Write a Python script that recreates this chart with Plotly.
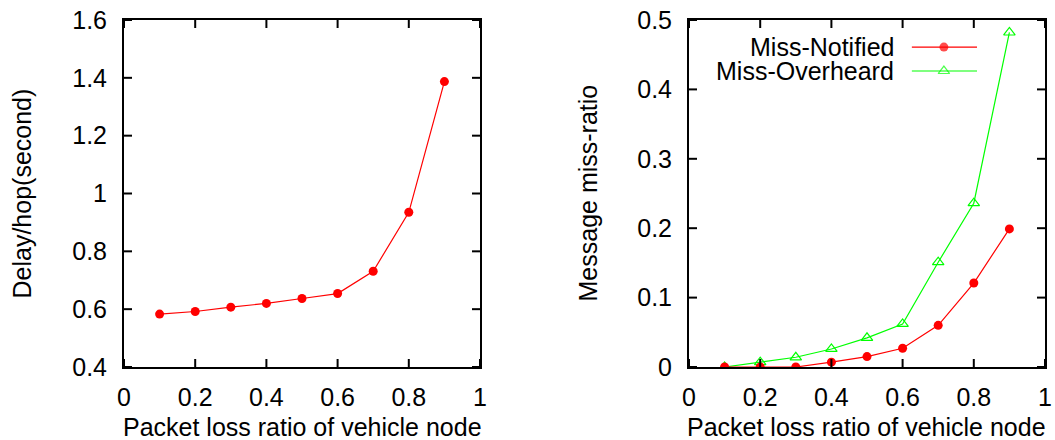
import plotly.graph_objects as go

# Packet loss ratio of the vehicle node (x for both panels)
loss_ratio = [0.1, 0.2, 0.3, 0.4, 0.5, 0.6, 0.7, 0.8, 0.9]

# Left panel: per-hop delay in seconds
delay_per_hop = [0.583, 0.592, 0.607, 0.620, 0.637, 0.654, 0.731, 0.935, 1.387]

# Right panel: message miss-ratio
miss_notified = [0.0, 0.0, 0.0, 0.007, 0.015, 0.027, 0.060, 0.121, 0.199]
miss_overheard = [0.0, 0.007, 0.014, 0.026, 0.042, 0.062, 0.151, 0.236, 0.482]

x_ticks = [0, 0.2, 0.4, 0.6, 0.8, 1]
x_tick_text = ["0", "0.2", "0.4", "0.6", "0.8", "1"]
left_y_ticks = [0.4, 0.6, 0.8, 1.0, 1.2, 1.4, 1.6]
left_y_text = ["0.4", "0.6", "0.8", "1", "1.2", "1.4", "1.6"]
right_y_ticks = [0, 0.1, 0.2, 0.3, 0.4, 0.5]
right_y_text = ["0", "0.1", "0.2", "0.3", "0.4", "0.5"]

legend_names = ["Miss-Notified", "Miss-Overheard"]

RED = "#ff0000"
GREEN = "#00ff00"
FONT = "Liberation Sans, Arial, sans-serif"
FS = 25
TICK_LEN = 8

W, H = 1055, 440
left_dom = [124 / W, 480 / W]
right_dom = [689 / W, 1045 / W]
y_dom = [1 - 367 / H, 1 - 20 / H]

fig = go.Figure()

fig.add_trace(go.Scatter(
    x=loss_ratio, y=delay_per_hop, mode="lines+markers",
    line=dict(color=RED, width=1.2),
    marker=dict(symbol="circle", size=9, color=RED),
    xaxis="x", yaxis="y", showlegend=False,
))

fig.add_trace(go.Scatter(
    x=loss_ratio, y=miss_overheard, mode="lines+markers",
    line=dict(color=GREEN, width=1.2),
    marker=dict(symbol="triangle-up-open", size=10, color=GREEN,
                line=dict(width=1.2, color=GREEN)),
    xaxis="x2", yaxis="y2", showlegend=False,
))
fig.add_trace(go.Scatter(
    x=loss_ratio, y=miss_notified, mode="lines+markers",
    line=dict(color=RED, width=1.2),
    marker=dict(symbol="circle", size=9, color=RED),
    xaxis="x2", yaxis="y2", showlegend=False,
))

# Key box for the right panel (text to the left of the sample, gnuplot style)
key_rows = [0.922, 0.853]        # vertical position of each key row (axis fraction)
key_line = [0.626, 0.809]        # sample segment extent (axis fraction)
key_mark = 0.716
key_styles = [
    dict(color=RED, symbol="circle", size=9, line=dict(width=0, color=RED)),
    dict(color=GREEN, symbol="triangle-up-open", size=10, line=dict(width=1.2, color=GREEN)),
]
for name, ky, mk in zip(legend_names, key_rows, key_styles):
    fig.add_trace(go.Scatter(
        x=[key_line[0], key_mark, key_line[1]], y=[ky, ky, ky],
        mode="lines+markers",
        line=dict(color=mk["color"], width=1.2),
        marker=dict(symbol=mk["symbol"], size=[0, mk["size"], 0],
                    color=mk["color"], line=mk["line"]),
        xaxis="x3", yaxis="y3", showlegend=False, hoverinfo="skip",
    ))
    fig.add_annotation(
        x=key_line[0] - 0.045, y=ky, xref="x3", yref="y3",
        text=name, showarrow=False, xanchor="right", yanchor="middle",
        font=dict(family=FONT, size=FS, color="black"),
    )

# Axes: thick mirrored border; labels pushed outward by an invisible outside tick
def frame_axis(ticklen):
    return dict(
        showline=True, linecolor="black", linewidth=2, mirror=True,
        ticks="outside", ticklen=ticklen, tickcolor="rgba(0,0,0,0)",
        showgrid=False, zeroline=False, automargin=False, tickmode="array",
        tickfont=dict(family=FONT, size=FS, color="black"),
    )

fig.update_layout(
    width=W, height=H,
    margin=dict(l=0, r=0, t=0, b=0),
    paper_bgcolor="white", plot_bgcolor="white",
    xaxis=dict(domain=left_dom, range=[0, 1], tickvals=x_ticks, ticktext=x_tick_text,
               anchor="y", **frame_axis(7)),
    yaxis=dict(domain=y_dom, range=[0.4, 1.6], tickvals=left_y_ticks, ticktext=left_y_text,
               anchor="x", **frame_axis(10)),
    xaxis2=dict(domain=right_dom, range=[0, 1], tickvals=x_ticks, ticktext=x_tick_text,
                anchor="y2", **frame_axis(7)),
    yaxis2=dict(domain=y_dom, range=[0, 0.5], tickvals=right_y_ticks, ticktext=right_y_text,
                anchor="x2", **frame_axis(10)),
    xaxis3=dict(range=[0, 1], visible=False, overlaying="x2", anchor="y3", automargin=False),
    yaxis3=dict(range=[0, 1], visible=False, overlaying="y2", anchor="x3", automargin=False),
)

# Inward tick marks on all four sides of each panel
tick_line = dict(color="black", width=2)
for xa, ya, yvals in (("x", "y", left_y_ticks), ("x2", "y2", right_y_ticks)):
    for v in x_ticks:
        for anchor, sign in ((0, 1), (1, -1)):
            fig.add_shape(type="line", xref=xa, yref=f"{ya} domain",
                          x0=v, x1=v, ysizemode="pixel", yanchor=anchor,
                          y0=0, y1=sign * TICK_LEN, line=tick_line, layer="above")
    for v in yvals:
        for anchor, sign in ((0, 1), (1, -1)):
            fig.add_shape(type="line", xref=f"{xa} domain", yref=ya,
                          y0=v, y1=v, xsizemode="pixel", xanchor=anchor,
                          x0=0, x1=sign * TICK_LEN, line=tick_line, layer="above")

title_font = dict(family=FONT, size=FS, color="black")
ymid = (y_dom[0] + y_dom[1]) / 2
fig.add_annotation(x=sum(left_dom) / 2, y=1 - 427 / H, xref="paper", yref="paper",
                   text="Packet loss ratio of vehicle node", showarrow=False,
                   xanchor="center", yanchor="middle", font=title_font)
fig.add_annotation(x=sum(right_dom) / 2, y=1 - 427 / H, xref="paper", yref="paper",
                   text="Packet loss ratio of vehicle node", showarrow=False,
                   xanchor="center", yanchor="middle", font=title_font)
fig.add_annotation(x=22 / W, y=ymid, xref="paper", yref="paper",
                   text="Delay/hop(second)", showarrow=False, textangle=-90,
                   xanchor="center", yanchor="middle", font=title_font)
fig.add_annotation(x=588 / W, y=ymid, xref="paper", yref="paper",
                   text="Message miss-ratio", showarrow=False, textangle=-90,
                   xanchor="center", yanchor="middle", font=title_font)

fig.write_html("out.html")
